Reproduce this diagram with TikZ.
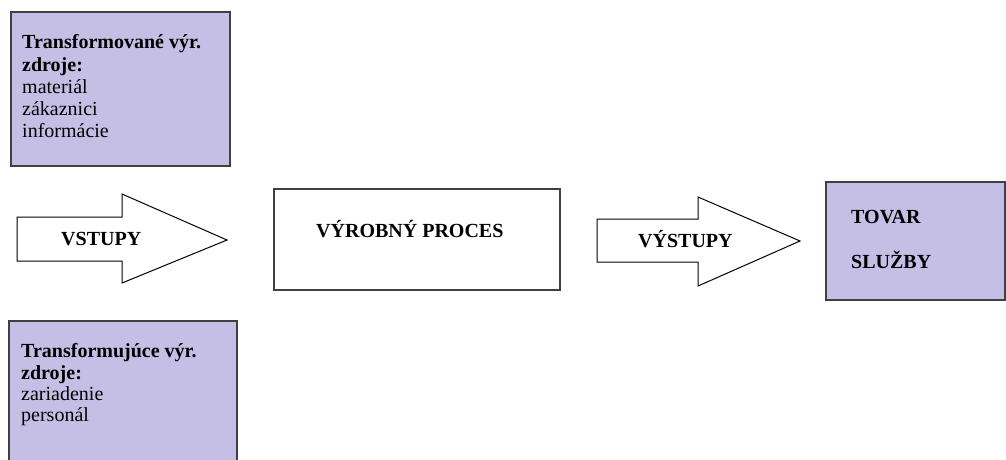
\documentclass[tikz,border=0pt]{standalone}
\usepackage{fontspec}
\setmainfont{Liberation Serif}
\definecolor{lav}{RGB}{198,191,229}
\definecolor{edge}{RGB}{64,64,64}
\begin{document}
\begin{tikzpicture}[x=1pt,y=-1pt,
  box/.style={draw=edge,line width=1.4pt},
  lavbox/.style={box,fill=lav},
  arrowshape/.style={draw=black,line width=1pt,fill=white,line join=miter},
  txt/.style={anchor=base west,inner sep=0pt,font=\fontsize{20}{22}\selectfont},
  btxt/.style={txt,font=\fontsize{20}{22}\selectfont\bfseries}]
\clip (0,0) rectangle (1006,459);
\fill[white] (0,0) rectangle (1006,459);
% boxes
\draw[lavbox] (11,12) rectangle (230,166);
\coordinate (topbox) at (120,89);
\draw[box,fill=white] (274,189) rectangle (560,290);
\coordinate (procbox) at (417,240);
\draw[lavbox] (826,182) rectangle (1005,300);
\coordinate (outbox) at (915,241);
\draw[lavbox] (9,321) rectangle (237,470);
\coordinate (botbox) at (123,395);
% arrows
\draw[arrowshape] (17,217) -- (122,217) -- (122,194) -- (227,240) -- (122,283) -- (122,261) -- (17,261) -- cycle;
\draw[arrowshape] (597,219) -- (698,219) -- (698,197) -- (800,241) -- (698,286) -- (698,262) -- (597,262) -- cycle;
% texts
\node[btxt] (t1) at (22,48) {Transformované výr.};
\node[btxt] (t2) at (22,71) {zdroje:};
\node[txt] (t3) at (22,93) {materiál};
\node[txt] (t4) at (22,115) {zákaznici};
\node[txt] (t5) at (22,137) {informácie};
\node[btxt] (b1) at (21,357) {Transformujúce výr.};
\node[btxt] (b2) at (21,379) {zdroje:};
\node[txt] (b3) at (21,400) {zariadenie};
\node[txt] (b4) at (21,421) {personál};
\node[btxt] (vstupy) at (61,245) {VSTUPY};
\node[btxt] (proces) at (316,237) {VÝROBNÝ PROCES};
\node[btxt] (vystupy) at (638,247) {VÝSTUPY};
\node[btxt] (tovar) at (851,223) {TOVAR};
\node[btxt] (sluzby) at (851,268) {SLUŽBY};
\end{tikzpicture}
\end{document}
